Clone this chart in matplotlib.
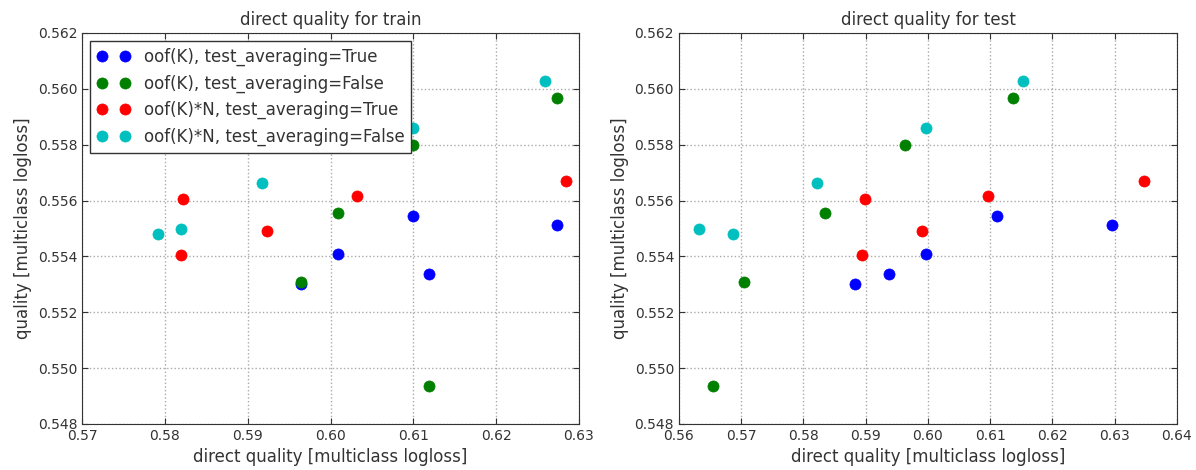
import matplotlib
matplotlib.use("Agg")
import matplotlib.pyplot as plt
from matplotlib.ticker import FormatStrFormatter

# Series labels and colours
series_labels = [
    "oof(K), test_averaging=True",
    "oof(K), test_averaging=False",
    "oof(K)*N, test_averaging=True",
    "oof(K)*N, test_averaging=False",
]
series_colors = ["b", "g", "r", "c"]

# Quality (multiclass logloss) per series
quality_oof_avg = [0.55544, 0.55409, 0.55338, 0.55302, 0.55514]
quality_oof_noavg = [0.55966, 0.55800, 0.55554, 0.55308, 0.54936]
quality_oofn_avg = [0.55670, 0.55615, 0.55604, 0.55490, 0.55404]
quality_oofn_noavg = [0.56027, 0.55861, 0.55661, 0.55499, 0.55479]

# Direct quality on train
train_oof_avg = [0.6099, 0.6009, 0.6119, 0.59645, 0.6274]
train_oof_noavg = [0.6274, 0.6099, 0.6009, 0.59645, 0.6119]
train_oofn_avg = [0.62838, 0.60318, 0.58223, 0.59238, 0.58191]
train_oofn_noavg = [0.62585, 0.6099, 0.59169, 0.58191, 0.57923]

# Direct quality on test
test_oof_avg = [0.61105, 0.59976, 0.59371, 0.58827, 0.62950]
test_oof_noavg = [0.61368, 0.59634, 0.58339, 0.57044, 0.56550]
test_oofn_avg = [0.63469, 0.60965, 0.58986, 0.59908, 0.58937]
test_oofn_noavg = [0.61533, 0.59976, 0.58217, 0.56324, 0.56861]

quality = [quality_oof_avg, quality_oof_noavg, quality_oofn_avg, quality_oofn_noavg]
train_x = [train_oof_avg, train_oof_noavg, train_oofn_avg, train_oofn_noavg]
test_x = [test_oof_avg, test_oof_noavg, test_oofn_avg, test_oofn_noavg]

plt.rcParams.update({
    "font.family": "DejaVu Sans",
    "text.color": "#333333",
    "axes.labelcolor": "#333333",
    "xtick.color": "#333333",
    "ytick.color": "#333333",
    "xtick.direction": "in",
    "ytick.direction": "in",
    "xtick.major.size": 4,
    "ytick.major.size": 4,
    "xtick.top": True,
    "ytick.right": True,
    "axes.edgecolor": "#333333",
})

fig = plt.figure(figsize=(11.96, 4.70), dpi=100)
ax1 = fig.add_axes([0.0686, 0.0979, 0.4155, 0.8320])
ax2 = fig.add_axes([0.5677, 0.0979, 0.4164, 0.8320])

panels = [
    (ax1, train_x, "direct quality for train", (0.57, 0.63)),
    (ax2, test_x, "direct quality for test", (0.56, 0.64)),
]

for ax, xs, title, xlim in panels:
    for x, y, lab, col in zip(xs, quality, series_labels, series_colors):
        ax.plot(x, y, "o", color=col, markeredgecolor=col, markersize=8,
                markeredgewidth=0.5, linestyle="none", label=lab)
    ax.set_xlim(*xlim)
    ax.set_ylim(0.548, 0.562)
    ax.set_title(title, fontsize=12)
    ax.set_xlabel("direct quality [multiclass logloss]", fontsize=12)
    ax.set_ylabel("quality [multiclass logloss]", fontsize=12)
    ax.tick_params(labelsize=10)
    ax.xaxis.set_major_formatter(FormatStrFormatter("%.2f"))
    ax.yaxis.set_major_formatter(FormatStrFormatter("%.3f"))
    ax.grid(True, linestyle=":", color="#aaaaaa", linewidth=1)
    ax.set_axisbelow(True)

leg = ax1.legend(loc="upper left", numpoints=2, fontsize=12, fancybox=False,
                 framealpha=1, edgecolor="#333333", borderaxespad=0.5,
                 borderpad=0.4, handlelength=2.0, handletextpad=0.8,
                 labelspacing=0.5)
leg.get_frame().set_linewidth(1)

fig.savefig("out.png", dpi=100)
